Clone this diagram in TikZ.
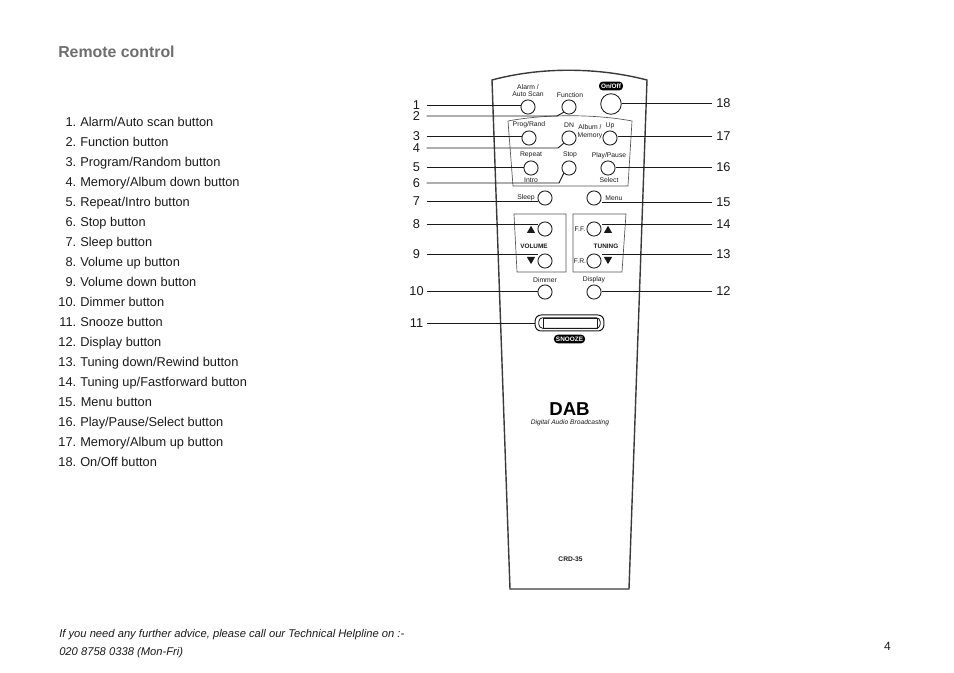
\documentclass[tikz,border=0pt]{standalone}
\usepackage{fontspec}
\setmainfont{Liberation Sans}
\usetikzlibrary{arrows.meta,calc,positioning,shapes.geometric}
\definecolor{Ink}{HTML}{1A1A1A}
\definecolor{Heading}{HTML}{6E6E70}
\definecolor{Casing}{HTML}{3A3A3A}
\definecolor{Panel}{HTML}{555555}
\tikzset{
  listtext/.style={anchor=base west,text=Ink,inner sep=0pt,font=\fontsize{9.6}{11}\selectfont},
  listnum/.style={anchor=base east,text=Ink,inner sep=0pt,font=\fontsize{9.6}{11}\selectfont},
  callleft/.style={text=Ink,inner sep=0pt,font=\fontsize{9.6}{11}\selectfont},
  callright/.style={anchor=west,text=Ink,inner sep=0pt,font=\fontsize{9.6}{11}\selectfont},
  keybtn/.style={circle,draw=Ink,line width=0.65pt,minimum size=10.6pt,inner sep=0pt},
  keytext/.style={text=Ink,inner sep=0pt,font=\fontsize{5.1}{6}\selectfont},
  keybold/.style={text=Ink,inner sep=0pt,font=\fontsize{4.8}{6}\selectfont\bfseries},
  pilltext/.style={fill=black,text=white,rounded corners=2.8pt,inner sep=1.5pt,font=\fontsize{4.8}{5}\selectfont\bfseries},
  leadleft/.style={draw=Ink,line width=0.7pt,shorten <=7.5pt},
  leadright/.style={draw=Ink,line width=0.7pt,shorten >=3pt},
  tri/.style={regular polygon,regular polygon sides=3,fill=Ink,inner sep=0pt,minimum size=7.2pt}
}
\begin{document}
\begin{tikzpicture}[x=0.75pt,y=-0.75pt]
    \useasboundingbox (0,0) rectangle (954,673);

    % left column
    \node[anchor=west,text=Heading,inner sep=0pt,font=\fontsize{11.9}{14}\selectfont\bfseries] (title) at (58,52) {Remote control};
    \foreach \n/\y/\t in {1/127/Alarm{/}Auto scan button,2/147/Function button,3/167/Program{/}Random button,
      4/187/Memory{/}Album down button,5/207/Repeat{/}Intro button,6/227/Stop button,7/247/Sleep button,
      8/267/Volume up button,9/287/Volume down button,10/307/Dimmer button,11/327/Snooze button,
      12/347/Display button,13/367/Tuning down{/}Rewind button,14/387/Tuning up{/}Fastforward button,
      16/427/Play{/}Pause{/}Select button,17/447/Memory{/}Album up button,18/467/On{/}Off button}{
      \node[listnum] (num\n) at (76.5,\y) {\n.};
      \node[listtext] (item\n) at (80,\y) {\t};
    }
    \node[listtext] (item15) at (58,407) {15. Menu button};

    \node[anchor=west,text=Ink,inner sep=0pt,font=\fontsize{8.4}{10}\selectfont\itshape] (help) at (59,635) {If you need any further advice, please call our Technical Helpline on :-};
    \node[anchor=west,text=Ink,inner sep=0pt,font=\fontsize{8.4}{10}\selectfont\itshape] (phone) at (59,653) {020 8758 0338 (Mon-Fri)};
    \node[anchor=east,text=Ink,inner sep=0pt,font=\fontsize{9}{11}\selectfont] (page) at (891,646) {4};

    % casing and panels
    \draw[Casing,line width=1.05pt] (510,589) -- (492,80) .. controls (540,67) and (597,67) .. (647,80) -- (629,589) -- cycle;
    \draw[Panel,line width=0.5pt] (513,186) -- (508,121) .. controls (545,114) and (595,114) .. (632,121) -- (628,186) -- cycle;
    \draw[Panel,line width=0.5pt] (514,214) -- (566,214) -- (566,272) -- (517,272) -- cycle;
    \draw[Panel,line width=0.5pt] (573,214) -- (626,214) -- (622,272) -- (573,272) -- cycle;

    % buttons
    \foreach \k/\x/\y in {alarm/528/107,func/569/107,prog/529/138,down/569/138,up/610/138,
      repeat/531/168,stop/569/168,play/608/168,sleep/545/198,menu/594/198,
      volup/545/229,voldown/545/261,ff/594/229,fr/594/261,dimmer/545/292,display/594/292}{
      \node[keybtn] (\k) at (\x,\y) {};
    }
    \node[keybtn,minimum size=15.4pt] (onoff) at (611,104) {};
    \node[draw=Ink,line width=0.75pt,rounded corners=4.5pt,minimum width=51.6pt,minimum height=12pt,inner sep=0pt] (snooze) at (569.5,323) {};
    \node[draw=Ink,line width=0.6pt,rounded corners=3pt,minimum width=46pt,minimum height=8pt,inner sep=0pt] (snoozein) at (569.5,323) {};
    \node[draw=Ink,line width=0.5pt,minimum width=40.5pt,minimum height=7.4pt,inner sep=0pt] (snoozebar) at (570,323) {};

    % key labels
    \foreach \x/\y/\t in {528/87/Alarm {/},528/94/Auto Scan,570/95/Function,529/125/Prog{/}Rand,569/125/DN,
      590/127/Album {/},590/136/Memory,610/126/Up,531/155/Repeat,570/155/Stop,609/156/Play{/}Pause,
      531/180/Intro,609/180/Select,526/198/Sleep,614/198/Menu,580/229/F.F.,580/261/F.R.,
      545/280/Dimmer,594/280/Display}{
      \node[keytext] at (\x,\y) {\t};
    }
    \node[keybold] (vollabel) at (534,246) {VOLUME};
    \node[keybold] (tunelabel) at (606,246) {TUNING};
    \node[pilltext] (onlabel) at (611,86) {On/Off};
    \node[pilltext] (snoozelabel) at (569.5,339) {SNOOZE};
    \node[tri] (tria) at (531,230.6) {};
    \node[tri,shape border rotate=180] (trib) at (531,259.3) {};
    \node[tri] (tric) at (608,230.6) {};
    \node[tri,shape border rotate=180] (trid) at (608,259.3) {};

    \node[text=black,inner sep=0pt,font=\fontsize{14}{14}\selectfont\bfseries] (dab) at (569.5,409) {DAB};
    \node[text=Ink,inner sep=0pt,font=\fontsize{5}{6}\selectfont\itshape] (dabtext) at (570,423) {Digital Audio Broadcasting};
    \node[keybold,font=\fontsize{5}{6}\selectfont\bfseries] (model) at (570.5,559) {CRD-35};

    % callouts on the left
    \foreach \n/\y/\k in {1/105/alarm,3/136/prog,5/167.5/repeat,7/201.5/sleep,8/224/volup,9/254/voldown,10/291.5/dimmer,11/323/snooze}{
      \node[callleft] (left\n) at (416.5,\y) {\n};
      \draw[leadleft] (left\n.center) -- (left\n.center -| \k.west);
    }
    \node[callleft] (left2) at (416.5,116) {2};
    \node[callleft] (left4) at (416.5,148) {4};
    \node[callleft] (left6) at (416.5,183) {6};
    \coordinate (bend2) at (557,116);
    \coordinate (bend4) at (558,148);
    \coordinate (bend6) at (559,183);
    \draw[leadleft] (left2.center) -- (bend2) -- (func.225);
    \draw[leadleft] (left4.center) -- (bend4) -- (down.225);
    \draw[leadleft] (left6.center) -- (bend6) -- (stop.225);

    % callouts on the right
    \foreach \n/\y/\k in {18/103/onoff,17/136/up,16/167/play,15/202/menu,14/224/ff,13/254.5/fr,12/291/display}{
      \node[callright] (right\n) at (716,\y) {\n};
      \draw[leadright] (right\n.west -| \k.east) -- (right\n.west);
    }
\end{tikzpicture}
\end{document}
